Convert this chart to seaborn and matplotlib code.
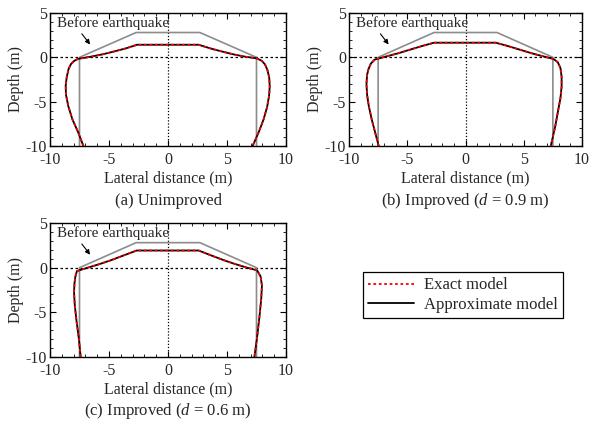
import numpy as np
import pandas as pd
import matplotlib
matplotlib.use("Agg")
import matplotlib.pyplot as plt
import seaborn as sns
from matplotlib.ticker import MultipleLocator

sns.set_theme(style="ticks")
plt.rcParams['font.family'] = ['Liberation Serif', 'DejaVu Serif']
plt.rcParams['mathtext.fontset'] = 'custom'
plt.rcParams['mathtext.rm'] = 'Liberation Serif'
plt.rcParams['mathtext.it'] = 'Liberation Serif:italic'
plt.rcParams['axes.unicode_minus'] = False

# ---- data ----
before_x = [-7.5, -7.5, -2.7, 2.7, 7.5, 7.5]
before_y = [-10.0, 0.0, 2.8, 2.8, 0.0, -10.0]

a_x = [-7.17, -7.6, -8.1, -8.45, -8.65, -8.67, -8.58, -8.42, -8.22, -7.95, -7.62, -6.5, -5.5, -4.6, -3.6, -2.62,
       2.6, 3.6, 4.6, 5.5, 6.5, 7.55, 7.95, 8.22, 8.42, 8.58, 8.62, 8.57, 8.4, 8.1, 7.7, 7.17]
a_y = [-10.0, -8.5, -7.0, -5.5, -4.2, -3.2, -2.2, -1.3, -0.75, -0.4, -0.17, 0.08, 0.35, 0.65, 1.0, 1.42,
       1.42, 1.0, 0.65, 0.35, 0.08, -0.12, -0.4, -0.8, -1.4, -2.3, -3.3, -4.3, -5.6, -7.0, -8.4, -10.0]

b_x = [-7.45, -7.75, -8.05, -8.3, -8.45, -8.5, -8.45, -8.32, -8.12, -7.8, -6.8, -5.8, -4.8, -3.8, -2.7,
       2.6, 3.7, 4.7, 5.7, 6.7, 7.55, 7.92, 8.15, 8.25, 8.25, 8.15, 7.95, 7.7, 7.32]
b_y = [-10.0, -8.5, -7.0, -5.5, -4.2, -3.0, -2.0, -1.3, -0.7, -0.26, 0.1, 0.45, 0.85, 1.25, 1.65,
       1.65, 1.25, 0.85, 0.45, 0.1, -0.18, -0.55, -1.2, -2.2, -3.3, -4.6, -6.0, -7.8, -10.0]

c_x = [-7.4, -7.55, -7.75, -7.9, -7.96, -7.93, -7.85, -7.72, -6.8, -5.8, -4.8, -3.8, -2.65,
       2.6, 3.7, 4.7, 5.7, 6.7, 7.55, 7.85, 7.96, 7.9, 7.75, 7.55, 7.32]
c_y = [-10.0, -8.0, -6.0, -4.2, -2.8, -1.8, -1.0, -0.38, 0.0, 0.4, 0.85, 1.35, 1.92,
       1.92, 1.35, 0.85, 0.4, 0.0, -0.3, -1.0, -2.0, -3.5, -5.5, -7.8, -10.0]

panels = [
    ("(a) Unimproved", a_x, a_y, [50, 13, 286, 146], 201),
    ("(b) Improved ($d$ = 0.9 m)", b_x, b_y, [349, 13, 582, 146], 201),
    ("(c) Improved ($d$ = 0.6 m)", c_x, c_y, [50, 223, 286, 357], 411),
]

W, H = 593, 425
fig = plt.figure(figsize=(W / 100, H / 100), dpi=100)
fs = 11.5

handles = None
for title, dx, dy, (l, t, r, b), cap_y in panels:
    ax = fig.add_axes([l / W, 1 - b / H, (r - l) / W, (b - t) / H])
    ax.axhline(0, color='black', ls=(0, (2, 2)), lw=0.9, zorder=1)
    ax.axvline(0, color='black', ls=(0, (1, 1.5)), lw=0.9, zorder=1)
    bdf = pd.DataFrame({"x": before_x, "y": before_y})
    sns.lineplot(data=bdf, x="x", y="y", sort=False, estimator=None, color='#8c8c8c', lw=1.2, ax=ax)
    ddf = pd.DataFrame({"x": dx, "y": dy})
    sns.lineplot(data=ddf, x="x", y="y", sort=False, estimator=None, color='black', lw=1.3, ax=ax,
                 label="Approximate model")
    sns.lineplot(data=ddf, x="x", y="y", sort=False, estimator=None, color='red', lw=1.3,
                 linestyle=(0, (1.5, 1.5)), ax=ax, label="Exact model")
    ax.set_xlim(-10, 10)
    ax.set_ylim(-10, 5)
    ax.xaxis.set_major_locator(MultipleLocator(5))
    ax.yaxis.set_major_locator(MultipleLocator(5))
    ax.xaxis.set_minor_locator(MultipleLocator(1))
    ax.yaxis.set_minor_locator(MultipleLocator(1))
    ax.tick_params(which='both', direction='in', top=True, right=True, labelsize=fs, color='black')
    ax.tick_params(axis='x', which='both', pad=4)
    ax.tick_params(axis='y', which='both', pad=2)
    ax.tick_params(which='major', length=4, width=0.8)
    ax.tick_params(which='minor', length=2, width=0.6)
    for s in ax.spines.values():
        s.set_color('black')
        s.set_linewidth(1.0)
    ax.set_xlabel("Lateral distance (m)", fontsize=fs, labelpad=2)
    ax.set_ylabel("Depth (m)", fontsize=fs, labelpad=1)
    ax.annotate("", xy=(-6.6, 1.45), xytext=(-7.3, 2.65),
                arrowprops=dict(arrowstyle='-|>', color='black', lw=0.8, mutation_scale=7,
                                shrinkA=0, shrinkB=0))
    ax.text(-9.4, 3.9, "Before earthquake", fontsize=11, va='center', ha='left')
    h, lab = ax.get_legend_handles_labels()
    handles = (h, lab)
    ax.get_legend().remove()
    fig.text(((l + r) / 2) / W, 1 - cap_y / H, title, fontsize=12, ha='center', va='center')

h, lab = handles
order = [1, 0]
fig.legend([h[i] for i in order], [lab[i] for i in order], loc='center',
           bbox_to_anchor=(463 / W, 1 - 295 / H), fontsize=12, frameon=True, fancybox=False,
           edgecolor='black', framealpha=1, handlelength=2.8, borderpad=0.3, labelspacing=0.2,
           handletextpad=0.6)
fig.legends[0].get_frame().set_linewidth(0.9)

fig.savefig("out.png", dpi=100)
